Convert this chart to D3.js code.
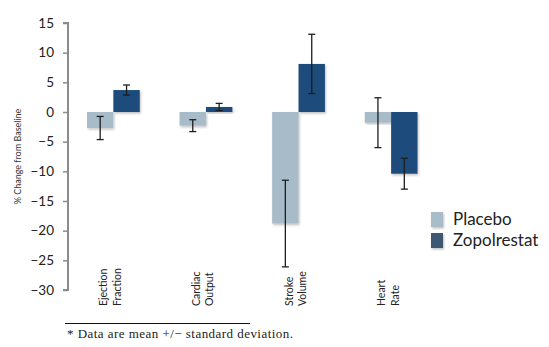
<!DOCTYPE html>
<html>
<head>
<meta charset="utf-8">
<script src="https://cdn.jsdelivr.net/npm/d3@7"></script>
<style>
  body { margin: 0; background: #fff; }
  svg { display: block; }
</style>
</head>
<body>
<svg width="549" height="347"></svg>
<script>
// categories (two-line labels) and series
var categories = [["Ejection", "Fraction"], ["Cardiac", "Output"], ["Stroke", "Volume"], ["Heart", "Rate"]];
var seriesNames = ["Placebo", "Zopolrestat"];
var placeboMean = [-2.7, -2.3, -18.8, -1.8];
var placeboSD = [1.95, 1.0, 7.3, 4.2];
var zopolMean = [3.7, 0.85, 8.1, -10.4];
var zopolSD = [0.85, 0.6, 5.0, 2.6];
var yTicks = [15, 10, 5, 0, -5, -10, -15, -20, -25, -30];

var colors = { Placebo: "#a7bcc8", Zopolrestat: "#1b4b7b" };
var legendColors = { Placebo: "#a9bdc9", Zopolrestat: "#3e5870" };

var svg = d3.select("svg");

var defs = svg.append("defs");
var f = defs.append("filter").attr("id", "shadow")
  .attr("x", "-20%").attr("y", "-20%").attr("width", "140%").attr("height", "140%");
f.append("feDropShadow").attr("dx", 1).attr("dy", 1.5).attr("stdDeviation", 1.2)
  .attr("flood-color", "#000").attr("flood-opacity", 0.25);

var y = d3.scaleLinear().domain([-30, 15]).range([290, 23]);

var keys = categories.map(function(d) { return d.join(" "); });
var x0 = d3.scaleBand().domain(keys).range([68, 436.5])
  .paddingInner(0.43).paddingOuter(0.205);
var x1 = d3.scaleBand().domain(seriesNames).range([0, x0.bandwidth()]);

var rows = [];
keys.forEach(function(k, i) {
  rows.push({ cat: k, s: "Placebo", mean: placeboMean[i], sd: placeboSD[i] });
  rows.push({ cat: k, s: "Zopolrestat", mean: zopolMean[i], sd: zopolSD[i] });
});

// y axis
var yAxis = d3.axisLeft(y).tickValues(yTicks).tickSize(5).tickPadding(9);
var ga = svg.append("g").attr("transform", "translate(68,0)").call(yAxis);
ga.select(".domain").attr("stroke", "#8c8c8c").attr("stroke-width", 2)
  .attr("d", "M-5," + y(15) + "H0V" + y(-30) + "H-5");
ga.selectAll(".tick line").attr("stroke", "#8c8c8c").attr("stroke-width", 1.5);
ga.selectAll(".tick text")
  .attr("font-family", "Lato, 'Open Sans', sans-serif")
  .attr("font-size", 13.5).attr("fill", "#222");

svg.append("text")
  .attr("transform", "translate(21," + y(-7.5) + ") rotate(-90)")
  .attr("text-anchor", "middle")
  .attr("font-family", "Lato, 'Open Sans', sans-serif")
  .attr("font-size", 9).attr("fill", "#333")
  .text("% Change from Baseline");

// bars
svg.append("g").selectAll("rect").data(rows).enter().append("rect")
  .attr("x", function(d) { return x0(d.cat) + x1(d.s); })
  .attr("width", x1.bandwidth())
  .attr("y", function(d) { return y(Math.max(0, d.mean)); })
  .attr("height", function(d) { return Math.abs(y(d.mean) - y(0)); })
  .attr("fill", function(d) { return colors[d.s]; })
  .attr("filter", "url(#shadow)");

// error bars
var eb = svg.append("g").selectAll("g").data(rows).enter().append("g")
  .attr("stroke", "#1e1e1e")
  .attr("stroke-width", 1.3);
var cx = function(d) { return x0(d.cat) + x1(d.s) + x1.bandwidth() / 2; };
eb.append("line")
  .attr("x1", cx).attr("x2", cx)
  .attr("y1", function(d) { return y(d.mean + d.sd); })
  .attr("y2", function(d) { return y(d.mean - d.sd); });
[1, -1].forEach(function(sign) {
  eb.append("line")
    .attr("x1", function(d) { return cx(d) - 3.5; })
    .attr("x2", function(d) { return cx(d) + 3.5; })
    .attr("y1", function(d) { return y(d.mean + sign * d.sd); })
    .attr("y2", function(d) { return y(d.mean + sign * d.sd); });
});

// category labels, rotated
var lab = svg.append("g").selectAll("text").data(categories).enter().append("text")
  .attr("transform", function(d, i) {
    return "translate(" + (x0(keys[i]) + x0.bandwidth() / 2 - 6) + ",306) rotate(-90)";
  })
  .attr("font-family", "Lato, 'Open Sans', sans-serif")
  .attr("font-size", 10.5).attr("fill", "#222");
lab.selectAll("tspan").data(function(d) { return d; }).enter().append("tspan")
  .attr("x", 0).attr("dy", function(d, i) { return i === 0 ? 0 : 13.5; })
  .text(function(d) { return d; });

// legend
var lg = svg.append("g").selectAll("g").data(seriesNames).enter().append("g")
  .attr("transform", function(d, i) { return "translate(431," + (212 + i * 21) + ")"; });
lg.append("rect").attr("width", 12).attr("height", 15)
  .attr("fill", function(d) { return legendColors[d]; })
  .attr("filter", "url(#shadow)");
lg.append("text").attr("x", 22).attr("y", 13)
  .attr("font-family", "Lato, 'Open Sans', sans-serif")
  .attr("font-size", 17).attr("fill", "#222")
  .text(function(d) { return d; });

// footnote
svg.append("line").attr("x1", 65).attr("x2", 250).attr("y1", 323.5).attr("y2", 323.5)
  .attr("stroke", "#111").attr("stroke-width", 1);
svg.append("text").attr("x", 67).attr("y", 338)
  .attr("font-family", "'Liberation Serif', 'DejaVu Serif', serif")
  .attr("font-size", 13).attr("fill", "#222")
  .attr("textLength", 226).attr("lengthAdjust", "spacing")
  .text("* Data are mean +/\u2212 standard deviation.");
</script>
</body>
</html>
